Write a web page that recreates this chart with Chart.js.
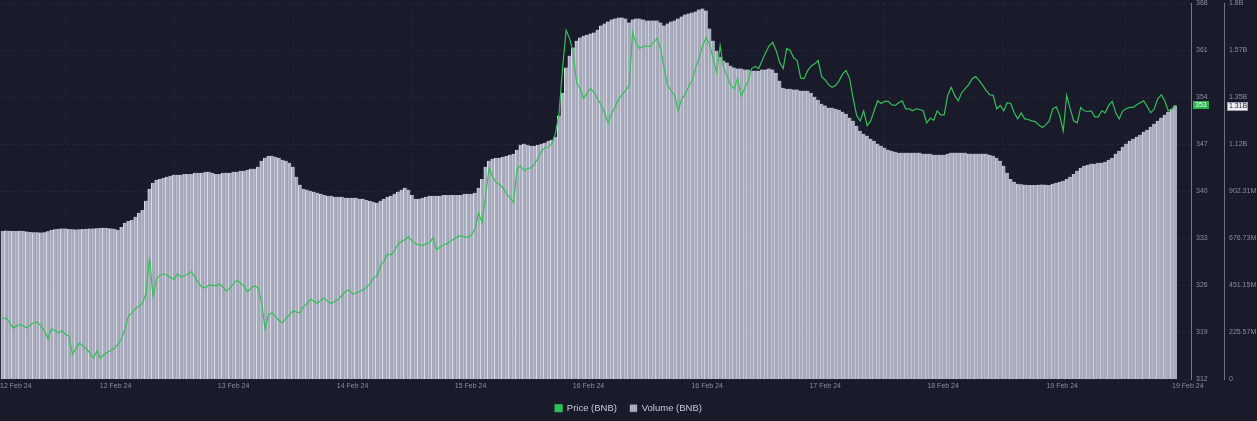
<!DOCTYPE html>
<html>
<head>
<meta charset="utf-8">
<script src="https://cdn.jsdelivr.net/npm/chart.js@4.4.1/dist/chart.umd.min.js"></script>
<style>
    html, body { margin: 0; padding: 0; background: #191b2a; }
    #wrap { width: 1257px; height: 421px; position: relative; }
</style>
</head>
<body>
<div id="wrap"><canvas id="bnbChart"></canvas></div>
<script>
// 30-minute buckets, 12 Feb 24 -> 19 Feb 24
const priceBNB = [
    321.0,321.1,320.5,319.6,319.9,320.2,319.9,319.6,320.1,320.4,
    320.5,319.9,319.2,318.0,319.5,319.2,318.9,319.2,318.7,318.4,
    315.7,316.6,317.4,316.9,316.5,315.9,315.1,316.2,315.1,315.7,
    316.0,316.3,316.6,317.2,318.0,319.5,321.4,321.9,322.5,322.9,
    323.3,324.8,330.1,324.4,326.9,327.5,327.7,327.5,327.1,326.9,
    327.7,327.2,327.4,327.7,328.0,327.2,326.3,325.7,325.6,326.0,
    326.0,325.9,326.2,325.7,325.1,325.6,326.2,326.8,326.3,325.9,
    325.0,325.6,325.9,325.6,323.6,319.5,321.6,321.9,321.3,320.7,
    320.4,321.1,321.6,322.2,322.0,321.9,322.8,323.3,323.9,323.6,
    323.3,323.8,324.1,323.5,323.3,323.6,323.9,324.5,325.1,325.3,
    324.7,324.8,325.1,325.3,325.7,326.2,327.1,327.4,328.9,329.6,
    330.7,330.5,331.1,332.2,332.5,332.8,333.2,332.6,332.2,332.0,
    331.9,332.2,332.3,333.1,331.3,331.7,332.0,332.2,332.6,332.9,
    333.2,333.4,333.2,333.1,333.5,334.4,336.8,335.3,339.3,343.5,
    342.2,341.3,341.0,340.5,339.6,339.0,338.3,343.4,343.8,343.1,
    343.4,343.5,344.1,345.0,346.0,346.5,346.6,347.2,348.7,351.7,
    358.4,364.0,362.8,360.7,356.2,355.3,353.8,354.7,355.3,354.7,
    353.8,352.9,351.7,350.1,351.6,352.6,353.7,354.4,355.0,355.8,
    363.7,362.0,361.3,361.6,361.6,361.6,362.2,362.8,361.3,358.4,
    355.8,355.0,354.3,352.0,353.8,354.4,355.6,356.5,358.4,359.9,
    361.7,362.9,361.9,359.8,357.7,361.7,358.4,357.2,355.8,355.3,
    356.8,354.2,355.3,356.5,358.3,358.6,358.3,359.5,360.7,361.7,
    362.2,361.0,359.2,358.3,361.3,361.0,359.9,359.5,356.9,356.8,
    358.0,358.7,359.0,359.5,357.1,356.6,355.9,355.5,355.8,356.5,
    357.5,358.0,356.8,353.8,351.3,350.5,352.0,349.8,350.5,352.0,
    353.5,353.1,353.4,353.4,352.9,352.8,353.2,353.5,352.3,352.3,
    352.0,352.3,352.2,352.0,350.2,350.9,350.6,352.0,351.4,351.4,
    354.3,355.5,354.3,353.5,354.7,355.3,355.9,356.8,357.1,356.5,
    355.8,355.0,354.4,354.3,352.3,352.8,352.0,353.2,353.1,351.7,
    350.8,351.7,350.8,350.7,350.5,350.4,349.9,349.5,349.9,350.5,
    352.3,352.6,351.3,349.0,354.3,352.3,350.5,350.2,352.5,352.0,
    351.9,352.0,351.1,351.1,352.0,351.7,352.8,353.4,351.7,350.8,
    352.0,352.3,352.5,352.5,352.9,353.2,353.5,352.6,351.7,352.3,
    353.8,354.4,353.5,352.0,352.2,352.8
];

// volume in millions
const volumeBNB = [
    712,714,713,712,711,713,712,709,707,706,
    705,704,706,710,716,720,722,724,723,721,
    720,719,720,721,722,723,724,725,726,727,
    726,724,722,717,731,751,760,765,780,799,
    813,857,914,943,958,962,967,972,977,982,
    982,982,986,986,986,991,991,991,996,996,
    991,986,986,991,991,991,996,996,1001,1001,
    1006,1011,1011,1020,1049,1063,1073,1073,1068,1063,
    1054,1049,1039,1020,972,934,914,910,905,900,
    895,890,885,881,881,876,876,876,871,871,
    871,871,866,866,861,857,852,847,857,866,
    876,881,890,900,910,919,910,885,866,866,
    871,876,881,881,881,881,885,885,885,885,
    885,885,890,890,890,895,919,962,1020,1049,
    1059,1063,1063,1068,1073,1078,1083,1102,1126,1131,
    1126,1121,1121,1126,1131,1136,1145,1150,1165,1266,
    1376,1497,1554,1593,1626,1641,1650,1655,1660,1665,
    1679,1699,1708,1718,1728,1732,1737,1737,1732,1713,
    1728,1732,1732,1728,1723,1723,1723,1723,1713,1699,
    1708,1718,1723,1732,1742,1752,1756,1761,1766,1776,
    1780,1771,1684,1626,1578,1549,1530,1521,1506,1497,
    1492,1492,1487,1487,1482,1482,1482,1487,1487,1492,
    1487,1472,1434,1400,1395,1395,1391,1391,1386,1386,
    1386,1376,1357,1342,1323,1314,1304,1304,1299,1294,
    1285,1275,1256,1241,1217,1193,1179,1169,1155,1145,
    1131,1121,1112,1102,1097,1092,1088,1088,1088,1088,
    1088,1088,1088,1083,1083,1083,1078,1078,1078,1078,
    1083,1088,1088,1088,1088,1088,1083,1083,1083,1083,
    1083,1083,1078,1073,1063,1049,1025,991,962,948,
    938,936,934,933,932,933,934,935,934,933,
    938,943,948,953,962,972,986,1001,1015,1025,
    1030,1035,1035,1039,1039,1044,1054,1063,1083,1097,
    1116,1131,1145,1155,1165,1174,1189,1198,1213,1227,
    1241,1256,1270,1285,1299,1314
];

// x axis tick positions (bucket index) and labels
const dateTickIndex = [3.8, 32.3, 66, 100, 133.7, 167.4, 201.3, 235, 268.7, 302.7, 338.6];
const dateTickLabels = ['12 Feb 24', '12 Feb 24', '13 Feb 24', '14 Feb 24', '15 Feb 24', '16 Feb 24',
    '16 Feb 24', '17 Feb 24', '18 Feb 24', '19 Feb 24', '19 Feb 24'];
const volumeTickLabels = ['0', '225.57M', '451.15M', '676.73M', '902.31M', '1.12B', '1.35B', '1.57B', '1.8B'];

const fontFamily = '"Liberation Sans", Arial, sans-serif';
const tickColor = '#8b8e9c';
const green = '#34bf58';

// last value tags on the right axes
const lastTags = {
    id: 'lastTags',
    afterDraw(chart) {
        const { ctx, scales } = chart;
        const p = priceBNB[priceBNB.length - 1];
        const v = volumeBNB[volumeBNB.length - 1];
        const py = Math.round(scales.price.getPixelForValue(p));
        const vy = Math.round(scales.volume.getPixelForValue(v));
        ctx.save();
        ctx.font = `7px ${fontFamily}`;
        ctx.textBaseline = 'middle';
        ctx.fillStyle = '#27b34c';
        ctx.fillRect(scales.price.left + 2, py - 4, 16, 8);
        ctx.fillStyle = '#ffffff';
        ctx.fillText(Math.round(p).toString(), scales.price.left + 4, py + 0.5);
        ctx.fillStyle = '#f2f2f5';
        ctx.fillRect(scales.volume.left + 3, vy - 4, 21, 9);
        ctx.strokeStyle = '#9a9caa';
        ctx.strokeRect(scales.volume.left + 3.5, vy - 3.5, 20, 8);
        ctx.fillStyle = '#1b1d2c';
        ctx.fillText((v / 1000).toFixed(2) + 'B', scales.volume.left + 5, vy + 0.5);
        ctx.restore();
    }
};

const chartData = {
    datasets: [
        {
            type: 'line',
            label: 'Price (BNB)',
            data: priceBNB.map((p, i) => ({ x: i, y: p })),
            yAxisID: 'price',
            borderColor: green,
            backgroundColor: green,
            borderWidth: 1.2,
            pointRadius: 0,
            tension: 0,
            order: 0
        },
        {
            type: 'bar',
            label: 'Volume (BNB)',
            data: volumeBNB.map((v, i) => ({ x: i, y: v })),
            yAxisID: 'volume',
            backgroundColor: '#a8abbd',
            borderColor: '#dcdde5',
            borderWidth: { left: 1, right: 0, top: 0, bottom: 0 },
            barPercentage: 1,
            categoryPercentage: 1,
            order: 1
        }
    ]
};

const chartOptions = {
    responsive: true,
    maintainAspectRatio: false,
    animation: false,
    layout: { padding: { top: 0, bottom: -2, left: 0 } },
    plugins: {
        legend: {
            position: 'bottom',
            labels: {
                color: '#c9cbd4',
                boxWidth: 7,
                boxHeight: 7,
                padding: 13,
                font: { family: fontFamily, size: 9.5 }
            }
        },
        tooltip: { enabled: false }
    },
    scales: {
        x: {
            type: 'linear',
            min: -0.5,
            max: 339.5,
            offset: false,
            afterBuildTicks: (axis) => {
                axis.ticks = dateTickIndex.map(v => ({ value: v }));
            },
            grid: { color: 'rgba(255,255,255,0.05)', drawTicks: true, tickLength: 3, tickColor: 'rgba(0,0,0,0)' },
            border: { display: false, dash: [3, 3] },
            ticks: {
                color: tickColor,
                autoSkip: false,
                maxRotation: 0,
                padding: 0,
                font: { family: fontFamily, size: 7 },
                callback: (value, index) => dateTickLabels[index]
            }
        },
        price: {
            position: 'right',
            min: 312,
            max: 368,
            afterFit: (scale) => { scale.width = 33; },
            grid: { color: 'rgba(255,255,255,0.06)', drawTicks: true, tickLength: 5, tickColor: 'rgba(0,0,0,0)' },
            border: { display: true, color: '#2ea84f', width: 1, dash: [3, 3] },
            ticks: {
                stepSize: 7,
                color: tickColor,
                padding: 0,
                font: { family: fontFamily, size: 7, lineHeight: 1 }
            }
        },
        volume: {
            position: 'right',
            min: 0,
            max: 1804.62,
            afterFit: (scale) => { scale.width = 33; },
            grid: { display: false, drawTicks: true, tickLength: 5 },
            border: { display: true, color: '#6f7280', width: 1 },
            ticks: {
                stepSize: 225.5775,
                color: tickColor,
                padding: 0,
                font: { family: fontFamily, size: 7, lineHeight: 1 },
                callback: (value, index) => volumeTickLabels[index]
            }
        }
    }
};

const bnbChart = new Chart(document.getElementById('bnbChart'), {
    type: 'bar',
    data: chartData,
    options: chartOptions,
    plugins: [lastTags]
});
</script>
</body>
</html>
